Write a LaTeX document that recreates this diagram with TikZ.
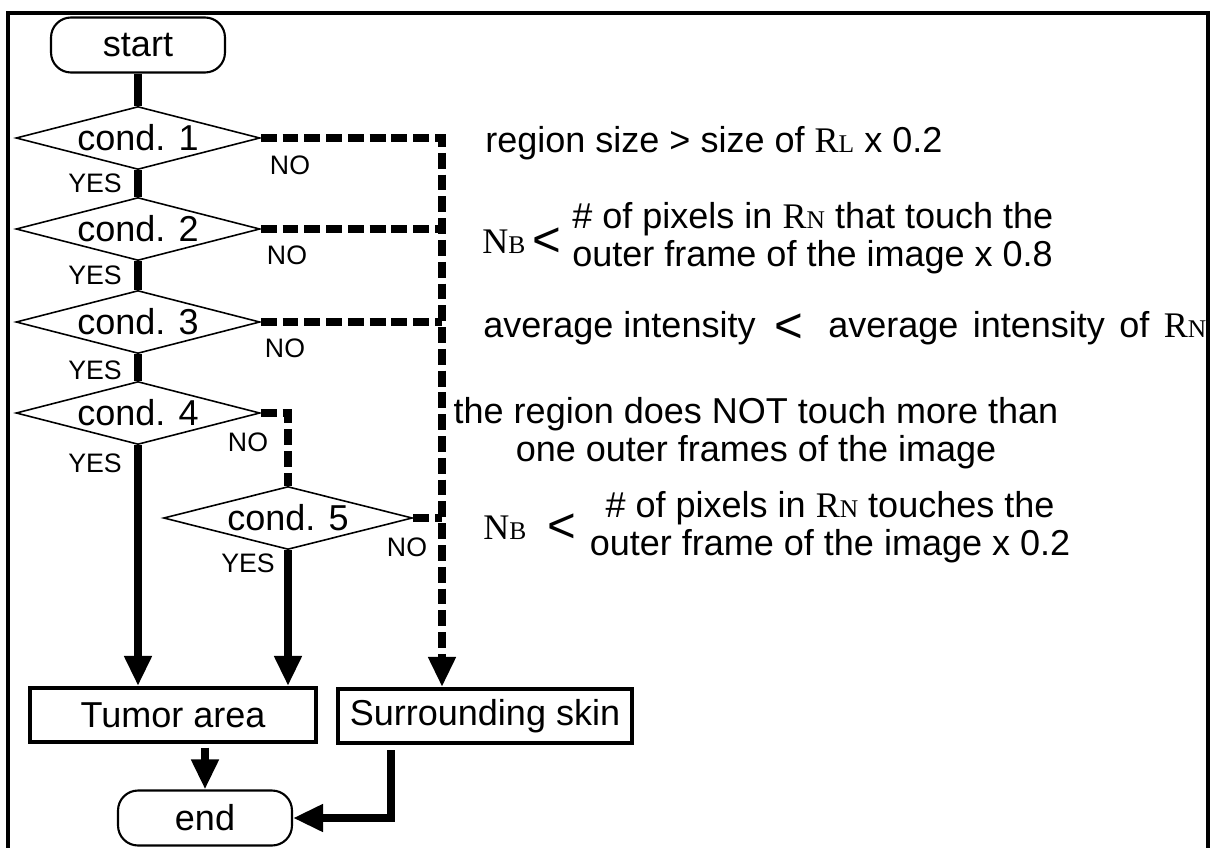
\documentclass[tikz,border=0pt]{standalone}
\usepackage{fontspec}
\setmainfont{Liberation Sans}
\newfontfamily\serifrm{Liberation Serif}
\usetikzlibrary{arrows.meta,positioning,shapes.geometric}
\newcommand{\capsub}[2]{{\serifrm #1{\fontsize{14.5}{14.5}\selectfont #2}}}
\tikzset{
  fcterm/.style={draw, line width=1.2pt, rounded corners=0.4cm, minimum width=3.48cm, minimum height=1.1cm, inner sep=0pt},
  fcdec/.style={draw, line width=0.9pt, diamond, aspect=3.87, minimum width=4.88cm, minimum height=1.26cm, inner sep=0pt},
  fcbox/.style={draw, line width=2.3pt, minimum height=1.08cm, inner sep=0pt},
  fcyes/.style={line width=4.5pt},
  fcarr/.style={-{Triangle[width=0.52cm,length=0.6cm]}, line width=4.5pt},
  fcdash/.style={line width=4.2pt, dash pattern=on 9pt off 3.4pt},
  fclabel/.style={font=\fontsize{15.2}{16}\selectfont, inner sep=0pt},
  fctext/.style={font=\fontsize{20.5}{21.8}\selectfont, inner sep=0pt, align=left},
  fcless/.style={font=\fontsize{28}{28}\selectfont, inner sep=0pt},
  fcframe/.style={line width=2.1pt}
}
\begin{document}
\begin{tikzpicture}[x=0.02cm, y=-0.02cm, font=\fontsize{20.5}{21.8}\selectfont]
  \useasboundingbox (0,0) rectangle (1217,848);
  \draw[fcframe] (8,860) -- (8,13) -- (1208,13) -- (1208,860);

  % flow chart
  \node[fcterm] (start) at (138,45) {start};
  \node[fcdec] (c1) at (138,138) {cond. 1};
  \node[fcdec] (c2) at (138,229) {cond. 2};
  \node[fcdec] (c3) at (138,322) {cond. 3};
  \node[fcdec] (c4) at (138,413) {cond. 4};
  \node[fcdec, minimum width=4.98cm] (c5) at (288,518) {cond. 5};
  \node[fcbox, minimum width=5.74cm] (tumor) at (173,715) {Tumor area};
  \node[fcbox, minimum width=5.88cm] (skin) at (485,716) {Surrounding skin};
  \node[fcterm] (fin) at (205,818) {end};
  \coordinate (bus) at (442,138);

  \draw[fcyes] (start) -- (c1);
  \draw[fcyes] (c1) -- (c2);
  \draw[fcyes] (c2) -- (c3);
  \draw[fcyes] (c3) -- (c4);
  \draw[fcarr] (c4) -- (c4 |- tumor.north);
  \draw[fcarr] (c5) -- (c5 |- tumor.north);
  \draw[fcarr, shorten <=2pt] (fin |- tumor.south) -- (fin);
  \draw[fcarr, shorten <=3pt] ([xshift=1.1cm]skin.south west) |- (fin);

  \draw[fcdash, -{Triangle[width=0.52cm,length=0.6cm]}] (c1) -| (bus |- skin.north);
  \draw[fcdash] (c2) -- (c2 -| bus);
  \draw[fcdash] (c3) -- (c3 -| bus);
  \draw[fcdash] (c4) -| (c5);
  \draw[fcdash] (c5) -- (c5 -| bus);

  \node[fclabel] (y1) at (95,183) {YES};
  \node[fclabel] (y2) at (95,275) {YES};
  \node[fclabel] (y3) at (95,370) {YES};
  \node[fclabel] (y4) at (95,463) {YES};
  \node[fclabel] (y5) at (248,563) {YES};
  \node[fclabel] (n1) at (290,165) {NO};
  \node[fclabel] (n2) at (287,255) {NO};
  \node[fclabel] (n3) at (285,348) {NO};
  \node[fclabel] (n4) at (248,442) {NO};
  \node[fclabel] (n5) at (407,547) {NO};

  % conditions
  \node[fctext, anchor=west] (t1) at (485,143) {region size > size of \capsub{R}{L} x 0.2};
  \node[fctext, anchor=west] (nb2) at (482,242) {\capsub{N}{B}};
  \node[fcless, right=0.12cm of nb2] (lt2) {<};
  \node[fctext, anchor=west] (t2) at (572,238) {\# of pixels in \capsub{R}{N} that touch the\\outer frame of the image x 0.8};
  \node[fctext, anchor=west] (t3a) at (483,328) {average intensity};
  \node[fcless, right=0.36cm of t3a] (lt3) {<};
  \node[fctext, anchor=west] (t3b) at (828,328) {\makebox[7.56cm][s]{average intensity of \capsub{R}{N}}};
  \node[fctext, align=center] (t4) at (756,433) {the region does NOT touch more than\\one outer frames of the image};
  \node[fctext, anchor=west] (nb5) at (483,528) {\capsub{N}{B}};
  \node[fcless, right=0.4cm of nb5] (lt5) {<};
  \node[fctext, align=center] (t5) at (830,527) {\# of pixels in \capsub{R}{N} touches the\\outer frame of the image x 0.2};
\end{tikzpicture}
\end{document}
